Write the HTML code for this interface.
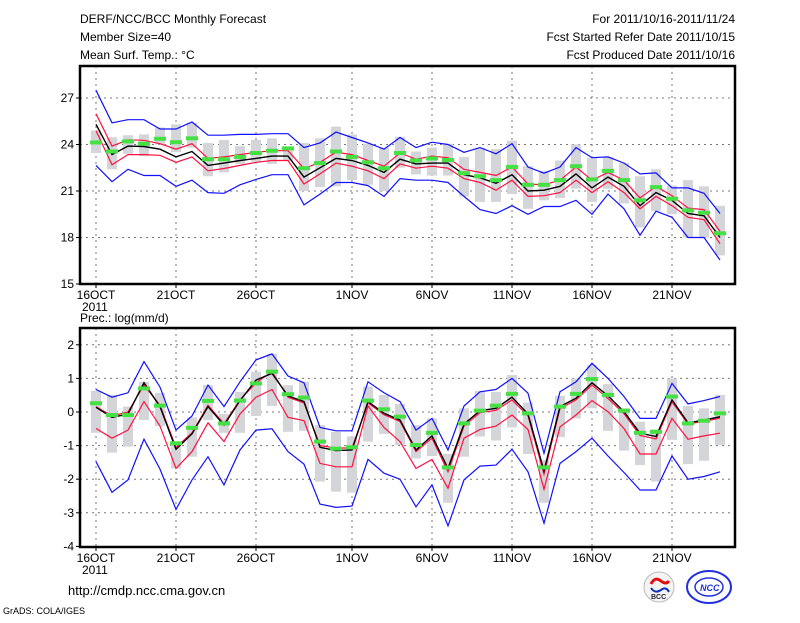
<!DOCTYPE html>
<html><head><meta charset="utf-8"><style>
html,body{margin:0;padding:0;background:#fff;}
svg text{font-family:"Liberation Sans",sans-serif;font-size:12px;fill:#000;}
</style></head><body>
<svg id="chart" width="800" height="618" viewBox="0 0 800 618" xmlns="http://www.w3.org/2000/svg">
<g>
<text x="80" y="23">DERF/NCC/BCC Monthly Forecast</text>
<text x="80" y="41">Member Size=40</text>
<text x="80" y="59">Mean Surf. Temp.: °C</text>
</g>
<g text-anchor="end">
<text x="735" y="23">For 2011/10/16-2011/11/24</text>
<text x="735" y="41">Fcst Started Refer Date 2011/10/15</text>
<text x="735" y="59">Fcst Produced Date 2011/10/16</text>
</g>
<text x="80" y="322">Prec.: log(mm/d)</text>
<text x="68" y="595" style="font-size:13px">http://cmdp.ncc.cma.gov.cn</text>
<text x="3" y="614" style="font-size:9px">GrADS: COLA/IGES</text>
<g>
<circle cx="659" cy="587" r="15" fill="#f4f4f4" stroke="#bbb"/>
<path d="M651 584 q4 -8 10 -3 q5 4 8 0" stroke="#e01010" stroke-width="3" fill="none"/>
<path d="M651 588 q4 6 10 2 q5 -4 8 2" stroke="#1030c0" stroke-width="2" fill="none"/>
<text x="651" y="599" style="font-size:7px;font-weight:bold;fill:#223">BCC</text>
</g>
<g>
<ellipse cx="709" cy="587" rx="22" ry="16" fill="#fff" stroke="#2030e0" stroke-width="2"/>
<ellipse cx="709" cy="587" rx="14" ry="9" fill="none" stroke="#2030e0" stroke-width="1.5"/>
<text x="700" y="591" style="font-size:9px;font-weight:bold;fill:#2030e0;font-style:italic">NCC</text>
</g>
<g id="top"></g>
<g id="bot"></g>
</svg>
<script>
const days = Array.from({length:40},(_,i)=>i);
const xTickDays = [0,5,10,16,21,26,31,36];
const xTickLabels = ["16OCT","21OCT","26OCT","1NOV","6NOV","11NOV","16NOV","21NOV"];

const tTicks = [15,18,21,24,27];
const tBlack = [25.3,23.35,23.9,23.87,23.7,23.2,23.55,22.65,22.8,22.97,23.1,23.25,23.25,21.9,22.5,23.1,22.97,22.65,22.2,23.05,22.75,22.8,22.8,22.05,21.85,21.5,22.05,21.0,21.05,21.3,22.1,21.2,21.9,21.3,20.05,20.9,20.4,19.55,19.4,18.0];
const tRedHi = [25.98,23.9,24.3,24.27,24.05,23.7,24.05,23.1,23.2,23.35,23.5,23.6,23.6,22.45,22.85,23.5,23.35,22.97,22.6,23.45,23.05,23.25,23.15,22.4,22.2,22.0,22.55,21.45,21.4,21.7,22.55,21.7,22.2,21.7,20.55,21.3,20.7,19.9,19.8,18.4];
const tRedLo = [24.9,22.7,23.35,23.35,23.3,22.85,23.2,22.3,22.45,22.65,22.85,22.97,22.97,21.45,22.1,22.8,22.6,22.3,21.8,22.75,22.47,22.6,22.47,21.8,21.55,21.05,21.7,20.65,20.7,20.9,21.7,20.9,21.6,20.9,19.85,20.65,20.05,19.3,19.15,17.6];
const tBlueHi = [27.5,25.4,25.6,25.6,25.0,25.0,25.45,24.6,24.6,24.65,24.65,24.7,24.7,23.8,24.1,24.8,24.45,24.1,23.7,24.45,23.8,24.15,24.0,23.5,23.8,23.4,24.05,22.55,22.15,22.55,23.8,23.15,23.2,22.8,22.1,22.17,21.2,21.2,20.85,19.55];
const tBlueLo = [22.65,21.6,22.4,22.0,22.0,21.3,21.7,20.9,20.85,21.4,21.75,22.05,22.05,20.1,20.8,21.55,21.55,21.35,20.65,21.8,21.7,21.7,21.55,20.65,19.8,19.55,20.05,19.5,20.0,20.0,20.4,19.5,20.8,19.85,18.15,19.7,19.3,18.0,18.0,16.55];
const tGreen = [24.13,23.55,24.2,24.05,24.37,24.15,24.4,23.05,23.05,23.2,23.45,23.6,23.75,22.47,22.8,23.55,23.2,22.85,22.47,23.45,22.97,23.1,23.0,22.15,21.95,21.7,22.55,21.4,21.4,21.7,22.6,21.75,22.3,21.7,20.4,21.25,20.5,19.75,19.6,18.27];
const tBoxHi = [24.9,24.47,24.6,24.65,25.1,25.3,25.4,24.1,24.3,23.9,24.3,24.4,23.8,24.1,24.4,25.15,24.65,24.05,23.8,24.5,23.55,23.8,24.05,23.2,23.8,23.7,24.25,22.6,22.3,22.97,24.0,23.15,23.2,22.8,21.95,22.4,21.35,21.7,21.3,20.05];
const tBoxLo = [23.45,22.4,23.4,23.25,24.0,23.5,23.8,21.95,22.2,22.75,22.9,22.75,22.97,21.0,21.25,21.3,21.7,21.4,21.0,22.5,22.07,22.0,22.0,20.65,20.3,20.3,20.8,19.85,20.4,20.55,21.15,20.3,21.15,20.2,18.65,19.7,19.5,18.0,18.0,16.85];

const pTicks = [-4,-3,-2,-1,0,1,2];
const pBlack = [0.14,-0.16,-0.06,0.87,0.16,-1.11,-0.65,0.16,-0.39,0.34,0.95,1.15,0.48,0.31,-1.05,-1.15,-1.13,0.31,-0.04,-0.24,-1.13,-0.71,-1.68,-0.36,0.04,0.11,0.44,-0.06,-1.75,0.16,0.41,0.87,0.48,0.01,-0.63,-0.73,0.36,-0.32,-0.24,-0.14];
const pRedHi = [0.16,-0.12,0.0,0.8,0.2,-1.05,-0.62,0.2,-0.35,0.36,0.87,1.2,0.44,0.27,-1.0,-1.07,-1.07,0.27,-0.08,-0.28,-1.18,-0.78,-1.78,-0.42,-0.02,0.05,0.36,-0.12,-1.85,0.1,0.36,0.8,0.4,-0.05,-0.7,-0.8,0.3,-0.35,-0.28,-0.18];
const pRedLo = [-0.49,-0.78,-0.54,0.31,-0.42,-1.68,-1.18,-0.32,-0.88,-0.06,0.44,0.67,-0.16,-0.26,-1.53,-1.63,-1.63,0.18,-0.46,-0.88,-1.68,-1.41,-2.27,-0.78,-0.52,-0.42,-0.09,-0.52,-2.3,-0.44,-0.09,0.34,0.01,-0.49,-1.25,-1.25,-0.19,-0.81,-0.71,-0.63];
const pBlueHi = [0.67,0.44,0.57,1.5,0.74,-0.54,-0.12,0.8,0.16,0.9,1.55,1.73,1.07,0.87,-0.46,-0.56,-0.56,0.9,0.57,0.31,-0.54,-0.19,-1.13,0.18,0.6,0.67,1.0,0.56,-1.23,0.6,0.9,1.45,1.0,0.46,-0.19,-0.19,0.85,0.24,0.34,0.46];
const pBlueLo = [-1.48,-2.39,-2.02,-0.81,-1.7,-2.9,-2.02,-1.33,-2.17,-1.13,-0.54,-0.5,-1.18,-1.55,-2.74,-2.84,-2.8,-1.41,-1.82,-2.0,-2.82,-2.17,-3.39,-2.02,-1.61,-1.58,-1.11,-1.78,-3.31,-1.53,-1.18,-0.78,-1.31,-1.8,-2.32,-2.32,-1.31,-2.0,-1.92,-1.78];
const pGreen = [0.26,-0.09,-0.09,0.7,0.19,-0.93,-0.47,0.33,-0.34,0.34,0.85,1.2,0.53,0.43,-0.88,-1.09,-1.05,0.34,0.08,-0.14,-0.98,-0.62,-1.65,-0.34,0.04,0.19,0.54,-0.04,-1.65,0.16,0.54,0.98,0.51,0.04,-0.62,-0.59,0.46,-0.34,-0.26,-0.04];
const pBoxHi = [0.63,0.51,0.16,0.9,0.57,-0.88,-0.16,0.8,-0.06,0.6,1.2,1.73,0.8,0.9,-0.39,-0.59,-0.73,0.75,0.51,0.24,-0.39,-0.19,-1.25,0.11,0.63,0.6,1.1,0.28,-1.43,0.48,1.0,1.4,0.83,0.11,-0.29,-0.52,1.0,0.18,0.11,0.51];
const pBoxLo = [-0.62,-1.21,-1.03,-0.24,-0.42,-1.68,-1.33,-0.24,-0.62,-0.62,-0.12,0.18,-0.59,-0.56,-2.07,-2.37,-2.4,-0.88,-0.65,-0.98,-1.38,-1.31,-2.7,-1.33,-0.73,-0.85,-0.46,-1.25,-2.7,-0.75,-0.19,0.11,-0.56,-1.15,-1.58,-2.07,-0.83,-1.55,-1.45,-0.98];

const NS='http://www.w3.org/2000/svg';
const X0=80, X1=735;
function xScale(d){return 96+16*d;}
function mk(parent,tag,attrs){const e=document.createElementNS(NS,tag);for(const k in attrs)e.setAttribute(k,attrs[k]);parent.appendChild(e);return e;}

function drawPanel(g, name, top, bottom, refVal, refY, pxPerUnit, ticks, S, showYear){
  const y=v=>refY-(v-refVal)*pxPerUnit;
  ticks.forEach(t=>{ if(Math.abs(y(t)-bottom)<3) return;
    const l=mk(g,'line',{x1:X0,x2:X1,y1:y(t),y2:y(t),stroke:'#777','stroke-width':1,'stroke-dasharray':'2,4'});
    
    
  });
  xTickDays.forEach(d=>{
    const l=mk(g,'line',{x1:xScale(d),x2:xScale(d),y1:top,y2:bottom,stroke:'#777','stroke-width':1,'stroke-dasharray':'2,4'});
    
    
  });
  days.forEach(i=>{
    const hi=y(S.boxHi[i]), lo=y(S.boxLo[i]);
    const r=mk(g,'rect',{x:xScale(i)-5,y:hi,width:10,height:Math.max(1,lo-hi),fill:'#d4d5d9'});
    
    
  });
  const line=(arr,col,w,label)=>{
    const p=mk(g,'polyline',{points:arr.map((v,i)=>xScale(i)+','+y(v).toFixed(1)).join(' '),fill:'none',stroke:col,'stroke-width':w});
    
    
  };
  line(S.blueHi,'#1010ff',1.2,name+'-blue-upper-line');
  line(S.blueLo,'#1010ff',1.2,name+'-blue-lower-line');
  line(S.redHi,'#ff1040',1.2,name+'-red-upper-line');
  line(S.redLo,'#ff1040',1.2,name+'-red-lower-line');
  line(S.black,'#000',1.4,name+'-ensemble-mean-line');
  days.forEach(i=>{
    const r=mk(g,'rect',{x:xScale(i)-6,y:y(S.green[i])-2,width:12,height:4,fill:'#44e044'});
    
    
  });
  const f=mk(g,'rect',{x:X0,y:top,width:X1-X0,height:bottom-top,fill:'none',stroke:'#000','stroke-width':2.5});
  
  
  ticks.forEach(t=>{
    const l=mk(g,'line',{x1:X0-4,x2:X0,y1:y(t),y2:y(t),stroke:'#000','stroke-width':1});
    
    
    const tx=mk(g,'text',{x:X0-6,y:y(t)+4,'text-anchor':'end'});
    tx.textContent=String(t);
    
    
  });
  xTickDays.forEach((d,k)=>{
    const l=mk(g,'line',{x1:xScale(d),x2:xScale(d),y1:bottom,y2:bottom+4,stroke:'#000','stroke-width':1});
    
    
    const tx=mk(g,'text',{x:xScale(d),y:bottom+15,'text-anchor':'middle'});
    tx.textContent=xTickLabels[k];
    
    
  });
  if(showYear){
    const tx=mk(g,'text',{x:82,y:bottom+27});
    tx.textContent='2011';
    
    
  }
}
const topG=document.getElementById('top');


const botG=document.getElementById('bot');


drawPanel(topG,'temp',66,284,15,284,15.5,tTicks,{black:tBlack,redHi:tRedHi,redLo:tRedLo,blueHi:tBlueHi,blueLo:tBlueLo,green:tGreen,boxHi:tBoxHi,boxLo:tBoxLo},true);
drawPanel(botG,'prec',328,547,0,412,33.6,pTicks,{black:pBlack,redHi:pRedHi,redLo:pRedLo,blueHi:pBlueHi,blueLo:pBlueLo,green:pGreen,boxHi:pBoxHi,boxLo:pBoxLo},true);
</script>
</body></html>
